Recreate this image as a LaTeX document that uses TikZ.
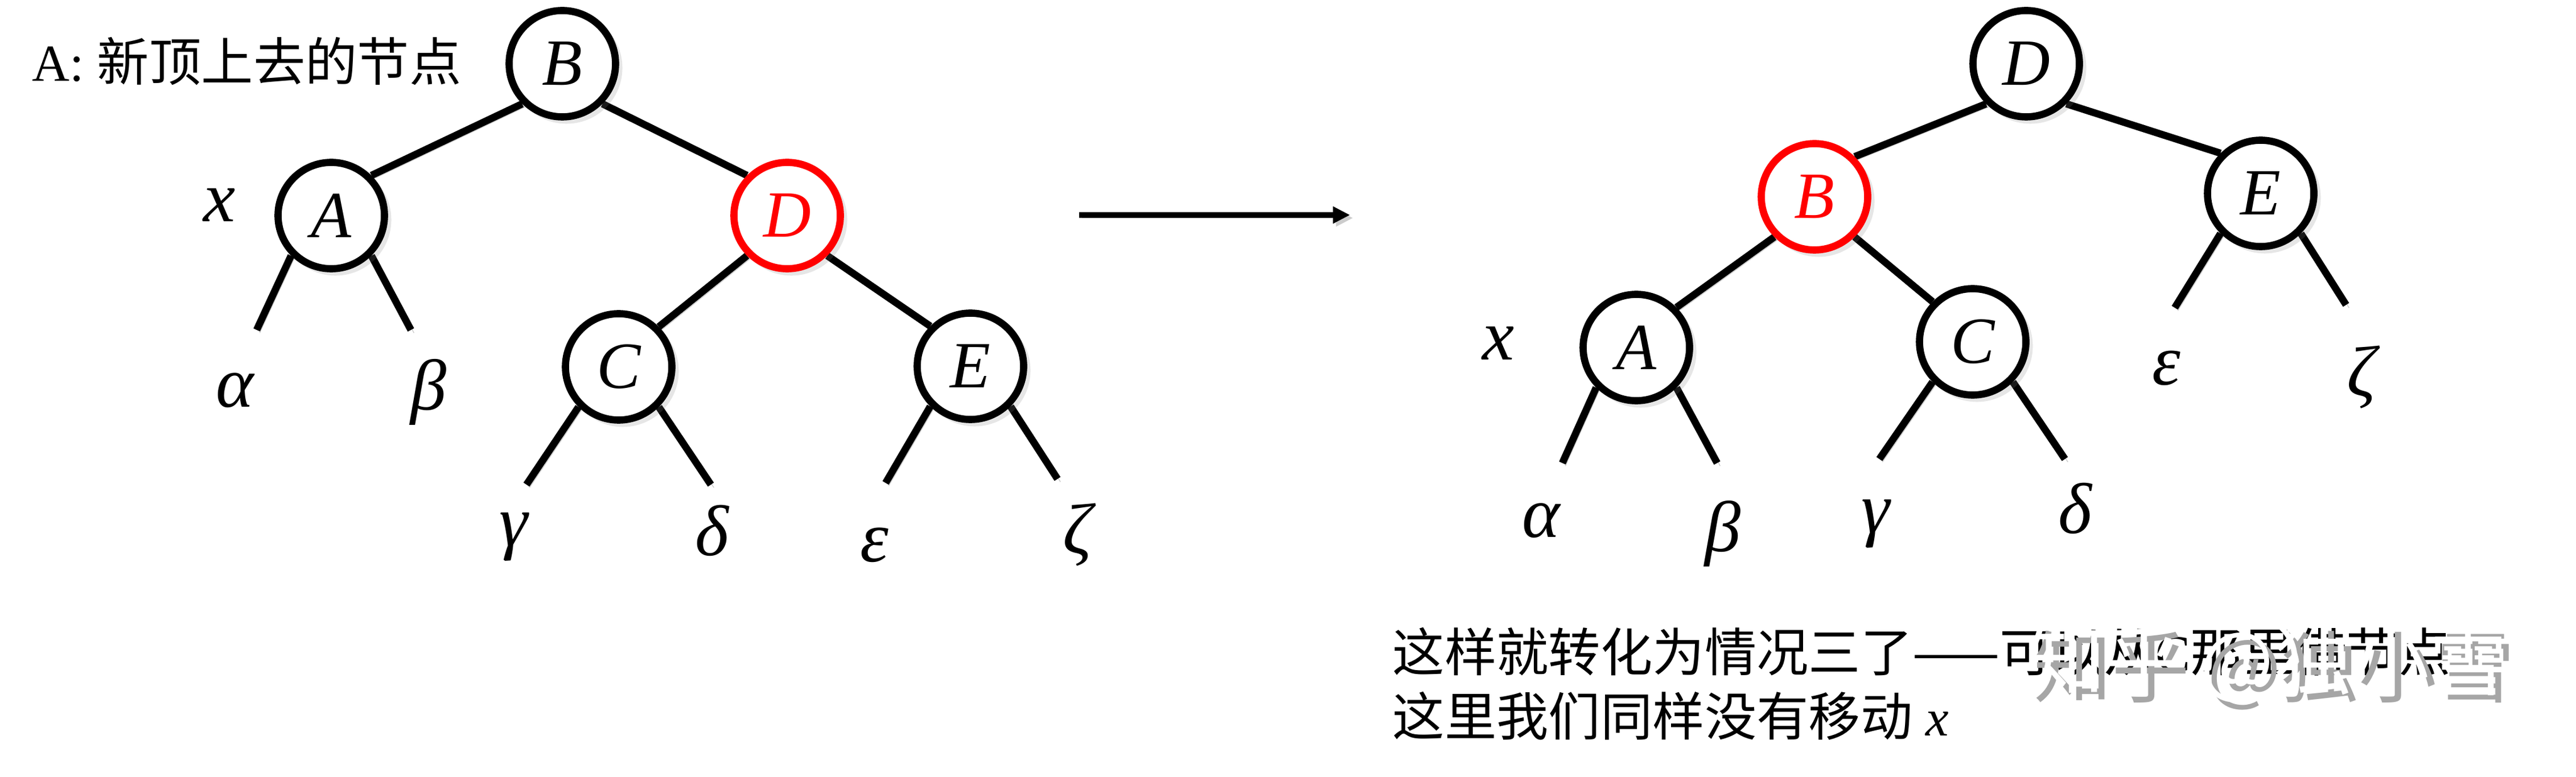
\documentclass[tikz,border=0pt]{standalone}
\usepackage{fontspec}
\setmainfont{Liberation Serif}
\newfontfamily\cjk{Noto Sans CJK SC}
\usetikzlibrary{arrows.meta,shadows,backgrounds}

\begin{document}
\begin{tikzpicture}[
    vert/.style={circle, draw=black, line width=3.6pt, fill=white, minimum size=1.87cm, inner sep=0pt,
        font=\fontsize{33}{36}\selectfont\itshape,
        drop shadow={shadow xshift=2pt, shadow yshift=-2pt, shadow scale=1.05, opacity=0.2}},
    redvert/.style={vert, draw=red, text=red},
    link/.style={line width=3.6pt, preaction={draw=black!20, transform canvas={shift={(1.5pt,-1.5pt)}}}},
    sub/.style={font=\fontsize{36}{40}\selectfont\itshape, inner sep=0pt},
    cn/.style={font=\fontsize{26}{32}\selectfont, inner sep=0pt},
    wmark/.style={font=\cjk\fontsize{39}{44}\selectfont, inner sep=0pt}
]
    \useasboundingbox (0,0) rectangle (45.26,13.65);

    % Left tree
    \node[vert]    (lB) at (9.88,12.53) {B};
    \node[vert]    (lA) at (5.82,9.86)  {A};
    \node[redvert] (lD) at (13.83,9.86) {D};
    \node[vert]    (lC) at (10.87,7.20) {C};
    \node[vert]    (lE) at (17.05,7.21) {E};

    % Right tree
    \node[vert]    (rD) at (35.60,12.53) {D};
    \node[redvert] (rB) at (31.88,10.19) {B};
    \node[vert]    (rE) at (39.72,10.25) {E};
    \node[vert]    (rA) at (28.75,7.54)  {A};
    \node[vert]    (rC) at (34.66,7.64)  {C};

    % Subtree stubs
    \coordinate (lA1) at (4.51,7.85);   \coordinate (lA2) at (7.22,7.85);
    \coordinate (lC1) at (9.25,5.13);   \coordinate (lC2) at (12.49,5.13);
    \coordinate (lE1) at (15.56,5.16);  \coordinate (lE2) at (18.58,5.23);
    \coordinate (rA1) at (27.45,5.51);  \coordinate (rA2) at (30.17,5.51);
    \coordinate (rC1) at (33.02,5.58);  \coordinate (rC2) at (36.28,5.58);
    \coordinate (rE1) at (38.21,8.24);  \coordinate (rE2) at (41.22,8.29);

    % Edges
    \begin{scope}[on background layer]
        \foreach \from/\to in {lB.225/lA.45, lB.315/lD.135, lD.225/lC.45, lD.315/lE.135,
                               rD.225/rB.45, rD.315/rE.135, rB.225/rA.45, rB.315/rC.135,
                               lA.225/lA1, lA.315/lA2, lC.225/lC1, lC.315/lC2, lE.225/lE1, lE.315/lE2,
                               rA.225/rA1, rA.315/rA2, rC.225/rC1, rC.315/rC2, rE.225/rE1, rE.315/rE2}
            \draw[link] (\from) -- (\to);
    \end{scope}

    % Arrow
    \coordinate (arrS) at (18.96,9.87);
    \coordinate (arrE) at (23.72,9.87);
    \draw[link, line width=2.7pt, -{Triangle[length=8.5pt,width=8pt]}] (arrS) -- (arrE);

    % Labels
    \node[sub] (lx)     at (3.86,10.05) {x};
    \node[sub] (lalpha) at (4.13,6.79)  {α};
    \node[sub] (lbeta)  at (7.53,6.76)  {β};
    \node[sub] (lgamma) at (9.02,4.21)  {γ};
    \node[sub] (ldelta) at (12.51,4.32) {δ};
    \node[sub] (leps)   at (15.36,4.07) {ε};
    \node[sub] (lzeta)  at (18.93,4.25) {ζ};

    \node[sub] (rx)     at (26.33,7.62) {x};
    \node[sub] (ralpha) at (27.08,4.50) {α};
    \node[sub] (rbeta)  at (30.27,4.27) {β};
    \node[sub] (rgamma) at (32.95,4.44) {γ};
    \node[sub] (rdelta) at (36.46,4.71) {δ};
    \node[sub] (reps)   at (38.06,7.18) {ε};
    \node[sub] (rzeta)  at (41.49,7.02) {ζ};

    % Notes
    \node[cn, anchor=west] (title) at (0.56,12.57) {A: {\cjk 新顶上去的节点}};
    \node[cn, anchor=west, align=left] (note) at (24.46,1.63)
        {{\cjk 这样就转化为情况三了——可以从}C{\cjk 那里借节点}\\{\cjk 这里我们同样没有移动} \textit{x}};

    % Watermark
    \node[wmark, text=black!35] (markshade) at (39.96,1.86) {知乎 @独小雪};
    \node[wmark, text=white]    (marktext)  at (39.83,1.99) {知乎 @独小雪};
\end{tikzpicture}
\end{document}
